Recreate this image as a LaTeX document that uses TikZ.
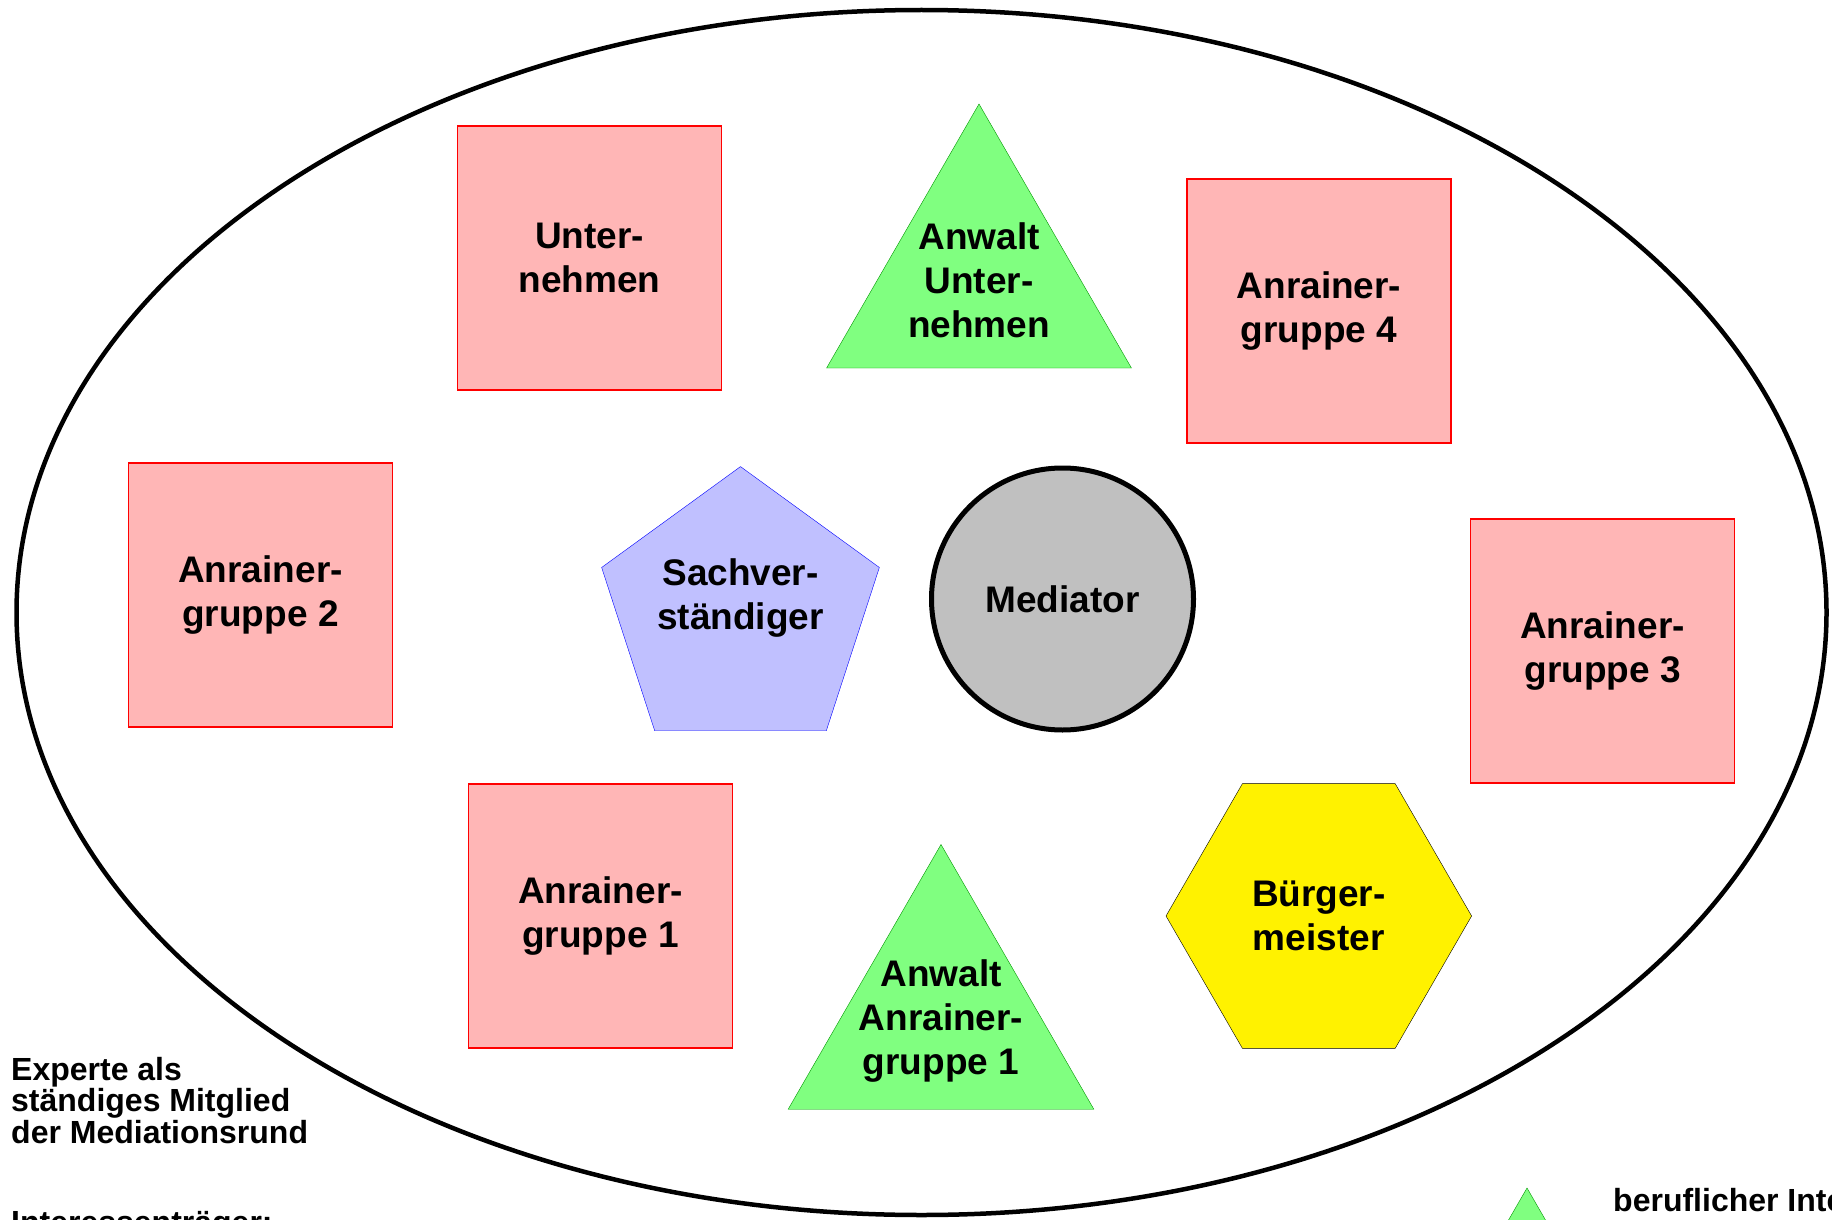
\documentclass[tikz,border=0pt]{standalone}
\usepackage{fontspec}
\setmainfont{Liberation Sans}
\usepackage{tikz}
\usetikzlibrary{shapes.geometric}

\definecolor{grpfill}{RGB}{255,182,182}
\definecolor{trifill}{RGB}{128,255,128}
\definecolor{triline}{RGB}{0,150,0}
\definecolor{penfill}{RGB}{192,192,255}
\definecolor{medfill}{RGB}{192,192,192}

\begin{document}
\begin{tikzpicture}[x=1pt,y=-1pt,
   lbl/.style={font=\bfseries\fontsize{37}{44}\selectfont,align=center},
   txt/.style={font=\bfseries\fontsize{32}{31.5}\selectfont,align=left,inner sep=0pt},
   grp/.style={lbl,draw=red,line width=1.2pt,fill=grpfill,minimum size=264pt,inner sep=0pt,outer sep=0pt},
   anw/.style={regular polygon,regular polygon sides=3,draw=triline,fill=trifill,minimum size=#1,inner sep=0pt,outer sep=0pt}]
   \useasboundingbox (0,0) rectangle (1832,1220);

   \node[draw,ellipse,line width=4.5pt,minimum width=1810pt,minimum height=1205pt,inner sep=0pt] (rund) at (921.5,612.5) {};

   \node[grp] (un) at (589.5,258) {Unter-\\nehmen};
   \node[grp] (ag4) at (1319,311) {Anrainer-\\gruppe 4};
   \node[grp] (ag2) at (260.5,595) {Anrainer-\\gruppe 2};
   \node[grp] (ag3) at (1602.5,651) {Anrainer-\\gruppe 3};
   \node[grp] (ag1) at (600.5,916) {Anrainer-\\gruppe 1};

   \node[anw=352pt,label={[lbl]center:Anwalt\\Unter-\\nehmen}] (anwun) at (979,280) {};
   \node[anw=353pt,label={[lbl]center:Anwalt\\Anrainer-\\gruppe 1}] (anwag) at (941,1021) {};

   \node[regular polygon,regular polygon sides=5,draw=blue,fill=penfill,minimum size=292pt,inner sep=0pt,
         label={[lbl,yshift=15pt]center:Sachver-\\ständiger}] (sv) at (740.5,612.6) {};
   \node[circle,draw,line width=5pt,fill=medfill,minimum size=262pt,inner sep=0pt,lbl] (med) at (1062.5,599) {Mediator};
   \node[regular polygon,regular polygon sides=6,draw,fill=yellow,minimum size=305.6pt,inner sep=0pt,
         label={[lbl]center:Bürger-\\meister}] (bm) at (1318.8,916) {};

   % legende unten
   \node[txt,anchor=base west] (exp) at (11,1143.3) {Experte als\\ständiges Mitglied\\der Mediationsrund};
   \node[txt,anchor=base west] (int) at (11,1233) {Interessenträger:};
   \node[anw=80pt] (leg) at (1527,1228) {};
   \node[txt,anchor=base west] (ber) at (1613,1211) {beruflicher Inte};
\end{tikzpicture}
\end{document}
